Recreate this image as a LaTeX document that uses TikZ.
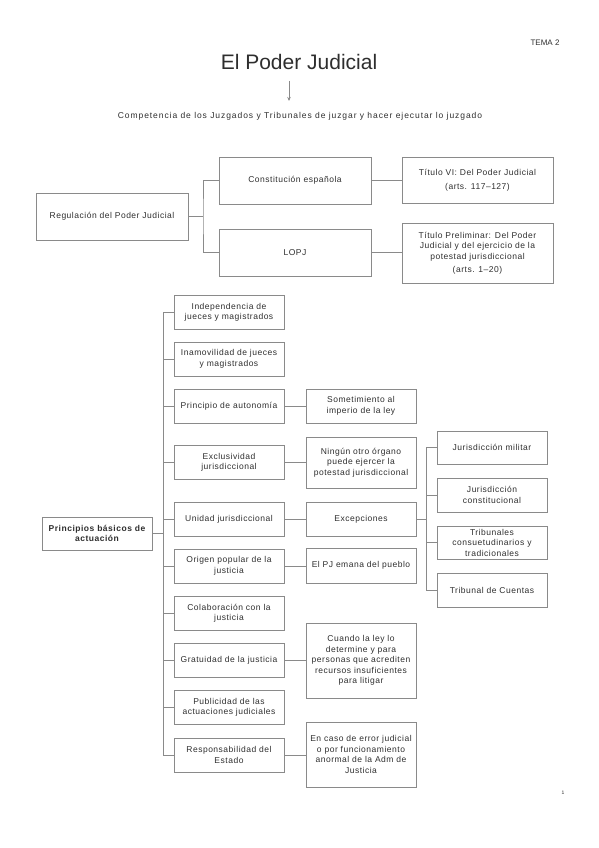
\documentclass[tikz,border=0pt]{standalone}
\usepackage{fontspec}
\setmainfont{Liberation Sans}
\usetikzlibrary{arrows.meta}
\definecolor{boxgray}{HTML}{8A8A8A}
\definecolor{txt}{HTML}{2E2E2E}
\newcommand{\boxfont}{\fontsize{8.5}{10.5}\selectfont\addfontfeature{LetterSpace=6}}
\begin{document}
\begin{tikzpicture}[x=1pt,y=-1pt,
  box/.style={draw=boxgray, line width=0.8pt, align=center, inner sep=1pt,
    font=\boxfont, text=txt},
  sz/.style n args={2}{minimum width=#1pt, minimum height=#2pt},
  conn/.style={draw=boxgray, line width=0.8pt},
  plain/.style={text=txt, inner sep=0pt}
]
\useasboundingbox (0,0) rectangle (599,848);

% header
\node[plain, font=\fontsize{8}{10}\selectfont] (tema) at (545,43) {TEMA 2};
\node[plain, font=\fontsize{21}{21}\selectfont] (title) at (299,62) {El Poder Judicial};
\node[plain, font=\fontsize{8.5}{10}\selectfont\addfontfeature{LetterSpace=11}] (sub) at (300,116) {Competencia de los Juzgados y Tribunales de juzgar y hacer ejecutar lo juzgado};
\coordinate (arS) at (289,81);
\coordinate (arE) at (289,101);
\draw[conn, -{Stealth[length=4pt,width=3.5pt]}] (arS) -- (arE);
\node[plain, font=\fontsize{5}{6}\selectfont] (pg) at (563,793) {1};

% top section
\node[box, sz={152}{47}] (reg) at (112,216.5) {Regulación del Poder Judicial};
\node[box, sz={152}{47}] (cons) at (295,180.5) {Constitución española};
\node[box, sz={152}{47}] (lopj) at (295,252.5) {LOPJ};
\node[box, sz={151}{46}] (t6) at (477.5,180) {Título VI: Del Poder Judicial\\[3pt](arts. 117–127)};
\node[box, sz={151}{60}] (tp) at (477.5,253) {Título Preliminar: Del Poder\\Judicial y del ejercicio de la\\potestad jurisdiccional\\[3pt](arts. 1–20)};
\coordinate (j1) at (203,216.5);
\draw[conn] (reg.east) -- (j1);
\draw[conn] (cons.west) -| (j1) |- (lopj.west);
\draw[conn] (cons.east) -- (cons.east -| t6.west);
\draw[conn] (lopj.east) -- (lopj.east -| tp.west);

% principles
\node[box, sz={110}{33}, font=\boxfont\bfseries] (pr) at (97,533.5) {Principios básicos de\\actuación};
\node[box, sz={110}{34}] (b1) at (229,312.5) {Independencia de\\jueces y magistrados};
\node[box, sz={110}{34}] (b2) at (229,359) {Inamovilidad de jueces\\y magistrados};
\node[box, sz={110}{34}] (b3) at (229,406) {Principio de autonomía};
\node[box, sz={110}{34}] (b4) at (229,462.5) {Exclusividad\\jurisdiccional};
\node[box, sz={110}{34}] (b5) at (229,519) {Unidad jurisdiccional};
\node[box, sz={110}{34}] (b6) at (229,566) {Origen popular de la\\justicia};
\node[box, sz={110}{34}] (b7) at (229,613) {Colaboración con la\\justicia};
\node[box, sz={110}{34}] (b8) at (229,660) {Gratuidad de la justicia};
\node[box, sz={110}{34}] (b9) at (229,707.5) {Publicidad de las\\actuaciones judiciales};
\node[box, sz={110}{34}] (b10) at (229,755) {Responsabilidad del\\Estado};
\coordinate (sp) at (163,533.5);
\draw[conn] (pr.east) -- (sp);
\foreach \b in {b1,b2,b3,b4,b5,b6,b7,b8,b9,b10} {\draw[conn] (\b.west) -| (sp);}

% middle column
\node[box, sz={110}{34}] (som) at (361,406) {Sometimiento al\\imperio de la ley};
\node[box, sz={110}{51}] (ning) at (361,462.5) {Ningún otro órgano\\puede ejercer la\\potestad jurisdiccional};
\node[box, sz={110}{34}] (exc) at (361,519) {Excepciones};
\node[box, sz={110}{35}] (pj) at (361,565.5) {El PJ emana del pueblo};
\node[box, sz={110}{75}] (cuando) at (361,660.5) {Cuando la ley lo\\determine y para\\personas que acrediten\\recursos insuficientes\\para litigar};
\node[box, sz={110}{65}] (encaso) at (361,754.5) {En caso de error judicial\\o por funcionamiento\\anormal de la Adm de\\Justicia};
\draw[conn] (b3.east) -- (b3.east -| som.west);
\draw[conn] (b4.east) -- (b4.east -| ning.west);
\draw[conn] (b5.east) -- (b5.east -| exc.west);
\draw[conn] (b6.east) -- (b6.east -| pj.west);
\draw[conn] (b8.east) -- (b8.east -| cuando.west);
\draw[conn] (b10.east) -- (b10.east -| encaso.west);

% right column
\node[box, sz={110}{33}] (jm) at (492,447.5) {Jurisdicción militar};
\node[box, sz={110}{34}] (jc) at (492,495) {Jurisdicción\\constitucional};
\node[box, sz={110}{33}] (tc) at (492,542.5) {Tribunales\\consuetudinarios y\\tradicionales};
\node[box, sz={110}{34}] (tcu) at (492,590) {Tribunal de Cuentas};
\coordinate (j3) at (426,519);
\draw[conn] (exc.east) -- (j3);
\foreach \b in {jm,jc,tc,tcu} {\draw[conn] (\b.west) -| (j3);}
\end{tikzpicture}
\end{document}
